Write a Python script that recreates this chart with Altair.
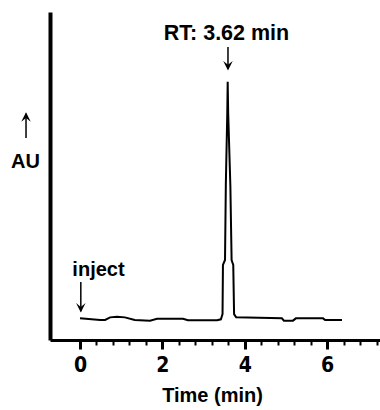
import altair as alt
import pandas as pd

# Chromatogram trace (time in min, absorbance in arbitrary units)
time_min = [0.00, 0.49, 0.61, 0.73, 0.90, 1.09, 1.33, 1.70, 1.87, 2.50, 2.62, 3.33,
            3.42, 3.46, 3.47, 3.52, 3.54, 3.575, 3.585, 3.597, 3.65, 3.68, 3.72, 3.74,
            3.79, 4.90, 4.95, 5.17, 5.24, 5.90, 5.95, 6.36]
au = [6.6, 6.1, 6.1, 6.9, 7.1, 6.9, 6.1, 5.9, 6.5, 6.5, 6.0, 6.0,
      6.3, 7.9, 22.9, 24.4, 47.3, 69.2, 78.7, 69.2, 47.0, 24.4, 22.9, 7.9,
      6.9, 6.6, 5.9, 5.9, 6.6, 6.6, 6.1, 6.1]

tick_values = [0, 0.4, 0.8, 1.2, 1.6, 2, 2.4, 2.8, 3.2, 3.6, 4, 4.4, 4.8, 5.2,
               5.6, 6, 6.4, 6.8, 7.2]
major_ticks = [0, 2, 4, 6]

# Annotations
label_text = ["RT: 3.62 min", "inject", "AU"]
label_x = [3.556, 0.449, -1.323]
label_y = [91.5, 19.5, 52.4]

# Arrows: stem start/end and head position
arrow_x = [3.592, 0.02, -1.31]
arrow_y1 = [89.3, 17.7, 61.6]
arrow_y2 = [82.6, 8.8, 69.0]
arrow_head_y = [83.6, 9.8, 68.0]
arrow_dir = ["down", "down", "up"]

FONT = "Liberation Sans"
NARROW = "Liberation Sans Narrow, DejaVu Sans Condensed, Liberation Sans"

trace = pd.DataFrame({"t": time_min, "au": au})
labels = pd.DataFrame({"text": label_text, "x": label_x, "y": label_y})
arrows = pd.DataFrame({"x": arrow_x, "y1": arrow_y1, "y2": arrow_y2,
                       "hy": arrow_head_y, "dir": arrow_dir})

xscale = alt.Scale(domain=[-0.728, 7.282], nice=False, zero=False)
yscale = alt.Scale(domain=[0, 100], nice=False, zero=False)

major_list = "[" + ",".join(str(v) for v in major_ticks) + "]"
major_test = f"indexof({major_list}, datum.value) >= 0"

xaxis = alt.Axis(
    values=tick_values,
    tickCount=100,
    labelExpr=f"{major_test} ? format(datum.value, 'd') : ''",
    labelOverlap=False,
    labelFlush=False,
    grid=False,
    domainColor="black",
    domainWidth=3,
    tickColor="black",
    tickSize={"condition": {"test": major_test, "value": 9}, "value": 5},
    tickWidth={"condition": {"test": major_test, "value": 3}, "value": 2},
    labelFont=NARROW,
    labelFontSize=21,
    labelFontWeight="bold",
    labelColor="black",
    labelPadding=5,
    title="Time (min)",
    titleFont=FONT,
    titleFontSize=20,
    titleFontWeight="bold",
    titleColor="black",
    titleX=162,
    titleY=61,
    titleBaseline="alphabetic",
    titleAnchor="start",
    titleAlign="center",
)

yaxis = alt.Axis(
    title=None, labels=False, ticks=False, grid=False,
    domainColor="black", domainWidth=4,
)

line = alt.Chart(trace).mark_line(color="black", strokeWidth=2).encode(
    x=alt.X("t:Q", scale=xscale, axis=xaxis),
    y=alt.Y("au:Q", scale=yscale, axis=yaxis),
)

rt_text = alt.Chart(labels).transform_filter("datum.text !== 'inject' && datum.text !== 'AU'").mark_text(
    font=FONT, fontSize=21.5, fontWeight="bold", color="black",
    align="center", baseline="alphabetic",
).encode(x="x:Q", y="y:Q", text="text:N")

other_text = alt.Chart(labels).transform_filter("datum.text === 'inject' || datum.text === 'AU'").mark_text(
    font=FONT, fontSize=20, fontWeight="bold", color="black",
    align="center", baseline="alphabetic",
).encode(x="x:Q", y="y:Q", text="text:N")

stems = alt.Chart(arrows).mark_rule(color="black", strokeWidth=1.5).encode(
    x="x:Q", y="y1:Q", y2="y2:Q"
)

heads_down = alt.Chart(arrows).transform_filter("datum.dir === 'down'").mark_point(
    shape="M-1,-1L0,1L1,-1L0,-0.2Z", filled=True, color="black", opacity=1, size=90,
).encode(x="x:Q", y="hy:Q")

heads_up = alt.Chart(arrows).transform_filter("datum.dir === 'up'").mark_point(
    shape="M-1,1L0,-1L1,1L0,0.2Z", filled=True, color="black", opacity=1, size=90,
).encode(x="x:Q", y="hy:Q")

chart = alt.layer(line, stems, heads_down, heads_up, rt_text, other_text).properties(
    width=330,
    height=328,
    autosize=alt.AutoSizeParams(type="none"),
    padding={"left": 50, "top": 12, "right": 0, "bottom": 70},
    background="white",
).configure_view(stroke=None)

chart.save("out.html", embed_options={"renderer": "svg", "actions": False})
